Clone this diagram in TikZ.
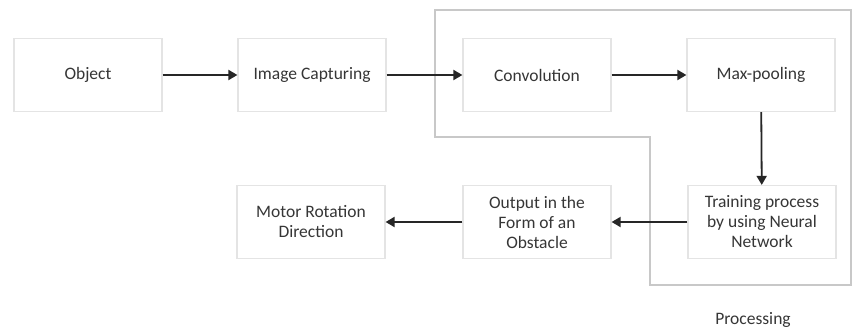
\documentclass[tikz,border=0pt]{standalone}
\usepackage{fontspec}
\setmainfont{Carlito}
\usetikzlibrary{arrows.meta}
\definecolor{boxline}{HTML}{E4E4E4}
\definecolor{procline}{HTML}{C8C8C8}
\definecolor{txt}{HTML}{363636}
\begin{document}
\begin{tikzpicture}[x=1pt,y=-1pt,
  blk/.style={draw=boxline,line width=1.2pt,minimum width=148pt,minimum height=73pt,inner sep=2pt,
    align=center,text=txt,font=\fontsize{17.5}{20}\selectfont},
  conn/.style={draw=black!85,line width=1.8pt,-{Triangle[length=9pt,width=10pt]}}]
\useasboundingbox (0,0) rectangle (853,331);
\fill[white] (0,0) rectangle (853,331);
% processing region
\draw[procline,line width=1.3pt] (435,10) -- (851,10) -- (851,285) -- (650,285) -- (650,137) -- (435,137) -- cycle;
\node[text=txt,font=\fontsize{17.5}{20}\selectfont] (proc) at (753,320) {Processing};
% nodes
\node[blk] (obj) at (88,75) {Object};
\node[blk] (img) at (312,75) {Image Capturing};
\node[blk] (conv) at (537,75) {Convolution};
\node[blk] (maxp) at (761,75) {Max-pooling};
\node[blk] (train) at (762,222) {Training process\\by using Neural\\Network};
\node[blk] (outp) at (537,222) {Output in the\\Form of an\\Obstacle};
\node[blk] (motor) at (311,222) {Motor Rotation\\Direction};
% connectors
\draw[conn] (obj) -- (img);
\draw[conn] (img) -- (conv);
\draw[conn] (conv) -- (maxp);
\draw[conn] (maxp) -- (train);
\draw[conn] (train) -- (outp);
\draw[conn] (outp) -- (motor);
\end{tikzpicture}
\end{document}
